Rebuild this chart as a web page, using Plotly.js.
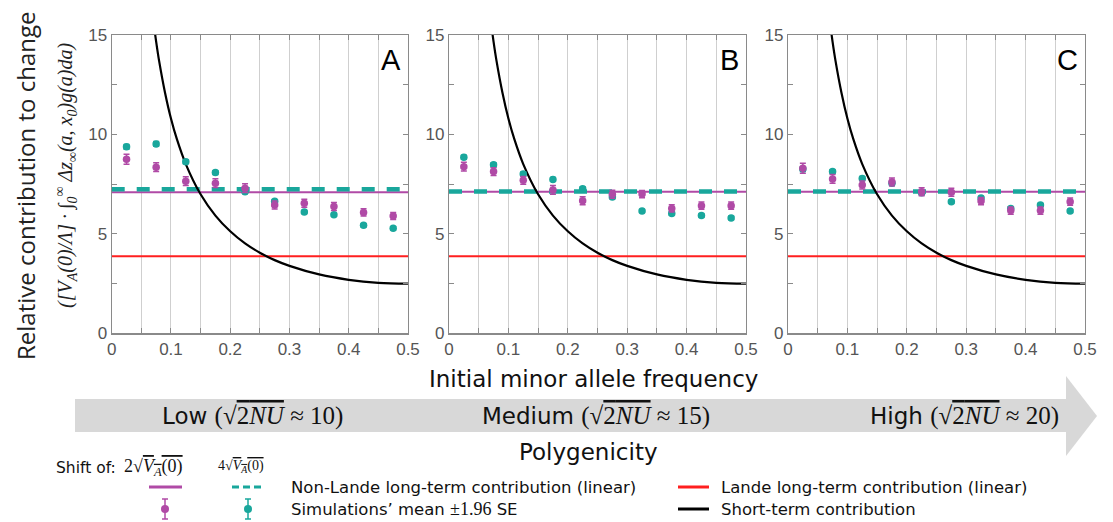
<!DOCTYPE html>
<html>
<head>
<meta charset="utf-8">
<script src="https://cdn.plot.ly/plotly-3.0.1.min.js"></script>
<style>html,body{margin:0;padding:0;background:#fff;}#chart{width:1113px;height:522px;}</style>
</head>
<body>
<div id="chart"></div>
<script>
// ---------------- DATA ----------------
const freqBins = [0.025, 0.075, 0.125, 0.175, 0.225, 0.275, 0.325, 0.375, 0.425, 0.475];
const panelLabels = ["A", "B", "C"];
const polyLabels = ["Low", "Medium", "High"];
const polyValues = ["10", "15", "20"];

// Simulations' mean (shift 2*sqrt(VA)) - magenta
const magA = [8.75, 8.35, 7.65, 7.55, 7.30, 6.45, 6.54, 6.38, 6.08, 5.90];
const magB = [8.38, 8.13, 7.69, 7.21, 6.67, 6.99, 7.00, 6.28, 6.42, 6.42];
const magC = [8.30, 7.76, 7.46, 7.61, 7.12, 7.09, 6.65, 6.17, 6.17, 6.62];
const magErrA = [0.25, 0.22, 0.22, 0.22, 0.22, 0.2, 0.2, 0.2, 0.18, 0.18];
const magErrB = [0.22, 0.2, 0.2, 0.22, 0.2, 0.2, 0.18, 0.18, 0.18, 0.18];
const magErrC = [0.25, 0.22, 0.2, 0.2, 0.2, 0.2, 0.18, 0.18, 0.18, 0.18];

// Simulations' mean (shift 4*sqrt(VA)) - teal
const cyanA = [9.38, 9.52, 8.63, 8.08, 7.12, 6.64, 6.10, 5.96, 5.43, 5.28];
const cyanB = [8.85, 8.48, 8.01, 7.74, 7.27, 6.85, 6.15, 6.03, 5.92, 5.80];
const cyanC = [8.26, 8.13, 7.79, 7.54, 7.07, 6.62, 6.80, 6.28, 6.45, 6.15];
const cyanErrA = [0.12, 0.12, 0.1, 0.1, 0.1, 0.08, 0.08, 0.08, 0.08, 0.08];
const cyanErrB = [0.1, 0.1, 0.1, 0.1, 0.1, 0.08, 0.08, 0.08, 0.08, 0.08];
const cyanErrC = [0.12, 0.1, 0.1, 0.1, 0.1, 0.08, 0.08, 0.08, 0.08, 0.08];

// Non-Lande long-term contribution (linear)
const nonLandeMag = [7.09, 7.12, 7.12];
const nonLandeCyan = [7.24, 7.13, 7.13];
// Lande long-term contribution (linear)
const landeLevel = [3.87, 3.87, 3.87];

// Short-term contribution curve
const curveX = [0.068, 0.07, 0.075, 0.08, 0.09, 0.1, 0.11, 0.125, 0.15, 0.175, 0.2, 0.225, 0.25, 0.275, 0.3, 0.35, 0.4, 0.45, 0.5];
const curveY = [16.4, 15.8, 14.67, 13.7, 12.1, 10.8, 9.76, 8.51, 6.99, 5.92, 5.13, 4.52, 4.05, 3.68, 3.39, 2.96, 2.69, 2.54, 2.50];

const magSeries = [magA, magB, magC];
const magErrs = [magErrA, magErrB, magErrC];
const cyanSeries = [cyanA, cyanB, cyanC];
const cyanErrs = [cyanErrA, cyanErrB, cyanErrC];

// ---------------- STYLE ----------------
const W = 1113, H = 522;
const px = x => x / W;
const py = y => 1 - y / H;
const MAG = '#b04aa6';
const CYAN = '#19a79c';
const RED = '#ff1f1f';
const sans = 'Liberation Sans, Arial, sans-serif';
const vsans = 'DejaVu Sans, Verdana, sans-serif';
const serif = 'Liberation Serif, DejaVu Serif, serif';

const panelPx = [[111.7, 408], [449, 746], [788, 1085]];
const yTop = 35, yBot = 333.3;

const traces = [];
const layout = {
  width: W, height: H,
  margin: {l: 0, r: 0, t: 0, b: 0},
  paper_bgcolor: '#fff', plot_bgcolor: '#fff',
  showlegend: false,
  shapes: [], annotations: []
};

for (let p = 0; p < 3; p++) {
  const sfx = p === 0 ? '' : String(p + 1);
  const xa = 'x' + sfx, ya = 'y' + sfx;
  layout['xaxis' + sfx] = {
    domain: [px(panelPx[p][0]), px(panelPx[p][1])],
    anchor: ya, range: [0, 0.5], tick0: 0, dtick: 0.1,
    showline: true, mirror: 'ticks', linecolor: '#8a8a8a', linewidth: 1.2,
    ticks: 'inside', ticklen: 5, tickcolor: '#8a8a8a',
    showgrid: true, gridcolor: '#cfcfcf', gridwidth: 1, zeroline: false,
    tickfont: {family: sans, size: 17, color: '#555'},
    minor: {dtick: 0.05, ticks: 'inside', ticklen: 5, tickcolor: '#8a8a8a', showgrid: true, gridcolor: '#cfcfcf', gridwidth: 1},
    fixedrange: true
  };
  layout['yaxis' + sfx] = {
    domain: [py(yBot), py(yTop)],
    anchor: xa, range: [0, 15], tick0: 0, dtick: 5,
    showline: true, mirror: 'ticks', linecolor: '#8a8a8a', linewidth: 1.2,
    ticks: 'inside', ticklen: 5, tickcolor: '#8a8a8a',
    showgrid: false, zeroline: false,
    tickfont: {family: sans, size: 17, color: '#555'},
    minor: {dtick: 2.5, ticks: 'inside', ticklen: 5, tickcolor: '#8a8a8a', showgrid: false},
    fixedrange: true
  };

  traces.push({x: [0, 0.5], y: [landeLevel[p], landeLevel[p]], xaxis: xa, yaxis: ya,
    mode: 'lines', line: {color: RED, width: 2}, hoverinfo: 'skip'});
  traces.push({x: [0, 0.5], y: [nonLandeMag[p], nonLandeMag[p]], xaxis: xa, yaxis: ya,
    mode: 'lines', line: {color: MAG, width: 2}, hoverinfo: 'skip'});
  traces.push({x: [0, 0.5], y: [nonLandeCyan[p], nonLandeCyan[p]], xaxis: xa, yaxis: ya,
    mode: 'lines', line: {color: CYAN, width: 4.5, dash: '13px,12px'}, hoverinfo: 'skip'});
  traces.push({x: curveX, y: curveY, xaxis: xa, yaxis: ya, mode: 'lines',
    line: {color: '#000', width: 2.2, shape: 'spline'}, hoverinfo: 'skip'});
  traces.push({x: freqBins, y: cyanSeries[p], xaxis: xa, yaxis: ya, mode: 'markers',
    marker: {color: CYAN, size: 7.5},
    error_y: {type: 'data', array: cyanErrs[p], color: CYAN, thickness: 1.5, width: 3}});
  traces.push({x: freqBins, y: magSeries[p], xaxis: xa, yaxis: ya, mode: 'markers',
    marker: {color: MAG, size: 7.5},
    error_y: {type: 'data', array: magErrs[p], color: MAG, thickness: 1.5, width: 3}});

  layout.annotations.push({xref: xa, yref: ya, x: 0.492, y: 13.75, xanchor: 'right', yanchor: 'middle',
    text: panelLabels[p], showarrow: false, font: {family: sans, size: 29, color: '#000'}});
}

function note(x, y, text, font, extra) {
  layout.annotations.push(Object.assign({xref: 'paper', yref: 'paper', x: px(x), y: py(y),
    xanchor: 'center', yanchor: 'middle', text: text, showarrow: false, font: font}, extra || {}));
}

// Y titles
note(25, 186, 'Relative contribution to change',
  {family: 'Open Sans, Liberation Sans, sans-serif', size: 24, color: '#222'}, {textangle: -90});
note(66, 176, '<i>([V<sub>A</sub>(0)/Λ] · ∫<sub>0</sub><sup>∞</sup> Δz<sub>∞</sub>(a, x<sub>0</sub>)g(a)da)</i>',
  {family: serif, size: 20, color: '#222'}, {textangle: -90});

// X title
note(593, 379, 'Initial minor allele frequency', {family: vsans, size: 23, color: '#111'});

// Gray arrow
layout.shapes.push({type: 'rect', xref: 'paper', yref: 'paper', layer: 'below',
  x0: px(75), x1: px(1066), y0: py(432), y1: py(399), fillcolor: '#d8d8d8', line: {width: 0}});
layout.shapes.push({type: 'path', xref: 'paper', yref: 'paper', layer: 'below',
  path: `M ${px(1066)},${py(376)} L ${px(1097)},${py(416)} L ${px(1066)},${py(456)} Z`,
  fillcolor: '#d8d8d8', line: {width: 0}});

const polyLeft = [160, 480, 868];
for (let i = 0; i < 3; i++) {
  note(polyLeft[i], 416,
    polyLabels[i] + ' <span style="font-family:' + serif + ';font-size:25px">(√<span style="text-decoration:overline">2<i>NU</i></span> ≈ ' + polyValues[i] + ')</span>',
    {family: vsans, size: 23, color: '#111'}, {xanchor: 'left'});
}
note(588, 452, 'Polygenicity', {family: vsans, size: 23, color: '#111'});

// Legend
note(54, 468, 'Shift of:', {family: vsans, size: 15.5, color: '#111'}, {xanchor: 'left'});
note(122, 467, '2√<span style="text-decoration:overline"><i>V<sub>A</sub></i>(0)</span>',
  {family: serif, size: 18, color: '#111'}, {xanchor: 'left'});
note(216, 466, '4√<span style="text-decoration:overline"><i>V<sub>A</sub></i>(0)</span>',
  {family: serif, size: 14, color: '#111'}, {xanchor: 'left'});

function seg(x0, x1, y, color, width, dash) {
  layout.shapes.push({type: 'line', xref: 'paper', yref: 'paper', x0: px(x0), x1: px(x1), y0: py(y), y1: py(y),
    line: {color: color, width: width, dash: dash || 'solid'}});
}
seg(149, 182, 487, MAG, 3);
seg(232, 265, 487, CYAN, 3, '7px,4px');
seg(678, 709, 487, RED, 3);
seg(678, 709, 509, '#000', 3);

function ebIcon(cx, color) {
  layout.shapes.push({type: 'line', xref: 'paper', yref: 'paper', x0: px(cx), x1: px(cx), y0: py(499), y1: py(519), line: {color: color, width: 1.5}});
  layout.shapes.push({type: 'line', xref: 'paper', yref: 'paper', x0: px(cx - 3), x1: px(cx + 3), y0: py(499), y1: py(499), line: {color: color, width: 1.5}});
  layout.shapes.push({type: 'line', xref: 'paper', yref: 'paper', x0: px(cx - 3), x1: px(cx + 3), y0: py(519), y1: py(519), line: {color: color, width: 1.5}});
  layout.shapes.push({type: 'circle', xref: 'paper', yref: 'paper', x0: px(cx - 4), x1: px(cx + 4), y0: py(513), y1: py(505), fillcolor: color, line: {color: color, width: 0}});
}
ebIcon(165, MAG);
ebIcon(248, CYAN);

const legendTexts = [
  [289, 487, 'Non-Lande long-term contribution (linear)'],
  [289, 509, 'Simulations’ mean <span style="font-family:' + serif + ';font-size:18px">±1.96</span> SE'],
  [719, 487, 'Lande long-term contribution (linear)'],
  [719, 509, 'Short-term contribution']
];
legendTexts.forEach(t => note(t[0], t[1], t[2], {family: vsans, size: 16.5, color: '#111'}, {xanchor: 'left'}));

Plotly.newPlot('chart', traces, layout, {displayModeBar: false, staticPlot: true});
</script>
</body>
</html>
